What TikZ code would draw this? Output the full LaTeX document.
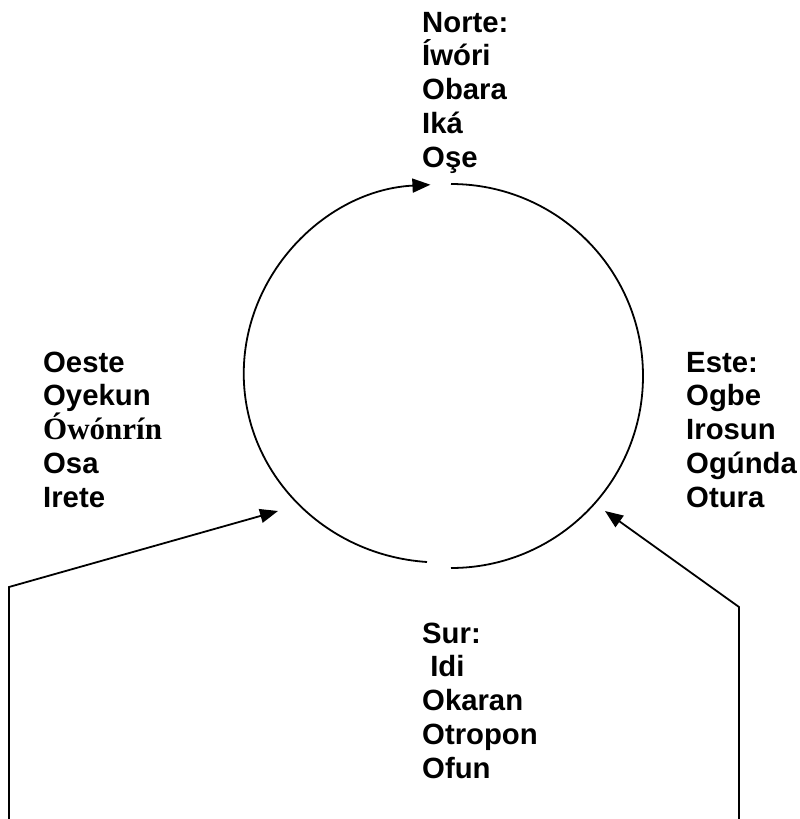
\documentclass[tikz,border=0pt]{standalone}
\usepackage{fontspec}
\setmainfont{Liberation Sans}
\newfontfamily\serifbold{Liberation Serif}
\usetikzlibrary{arrows.meta}
\begin{document}
\begin{tikzpicture}[x=1pt,y=-1pt,
  line/.style={line width=1.8pt,black},
  arr/.style={line,-{Triangle[length=18pt,width=14pt]}},
  label/.style={anchor=base west,align=left,inner sep=0pt,
    font=\fontsize{29.3}{33.7}\selectfont\bfseries}]
\path[use as bounding box,fill=white] (0,0) rectangle (800,819);
% circle as two arcs
\coordinate (lb) at (427,562);
\coordinate (lt) at (430,184);
\coordinate (rt) at (451,184);
\coordinate (rb) at (451,568);
\draw[arr] (lb) arc[start angle=94,end angle=267,x radius=197,y radius=189];
\draw[line] (rt) arc[start angle=-90,end angle=90,x radius=192,y radius=192];
% connectors
\coordinate (w0) at (9,819);
\coordinate (w1) at (9,587);
\coordinate (wt) at (278,511);
\coordinate (e0) at (739,819);
\coordinate (e1) at (739,607);
\coordinate (et) at (605,511);
\draw[arr] (w0) -- (w1) -- (wt);
\draw[arr] (e0) -- (e1) -- (et);
% labels (base anchor = baseline of last line)
\node[label] (norte) at (422,167) {Norte:\\Íwóri\\Obara\\Iká\\Oşe};
\node[label] (oeste) at (43,507) {Oeste\\Oyekun\\{\serifbold\fontsize{31}{33.7}\selectfont Ówónrín}\\Osa\\Irete};
\node[label] (este) at (686,507) {Este:\\Ogbe\\Irosun\\Ogúnda\\Otura};
\node[label] (sur) at (422,778) {Sur:\\\ Idi\\Okaran\\Otropon\\Ofun};
\end{tikzpicture}
\end{document}
